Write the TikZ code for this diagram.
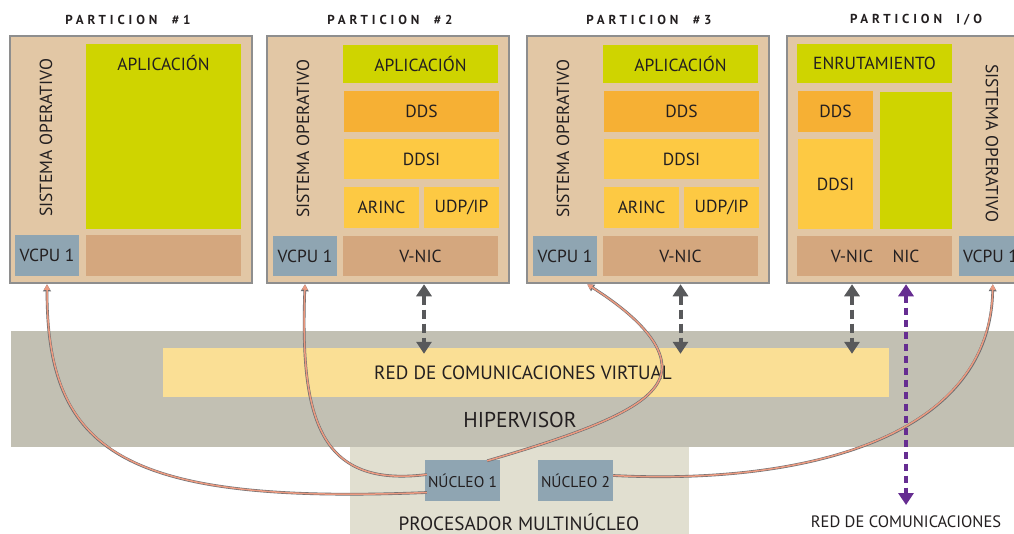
\documentclass[tikz,border=0pt]{standalone}
\usepackage{fontspec}
\setmainfont{PT Sans}
\newfontfamily\titlefont[LetterSpace=30]{PT Sans}
\usetikzlibrary{arrows.meta,calc}
\definecolor{ctan}{HTML}{E2C7A5}
\definecolor{cborder}{HTML}{8E8E8E}
\definecolor{cgreen}{HTML}{CFD400}
\definecolor{corange}{HTML}{F6B034}
\definecolor{cyellow}{HTML}{FDC943}
\definecolor{cbrown}{HTML}{D4A77E}
\definecolor{cblue}{HTML}{8FA5B2}
\definecolor{chyp}{HTML}{C2C0B3}
\definecolor{cvnet}{HTML}{FADF95}
\definecolor{cproc}{HTML}{E1DFD0}
\definecolor{ctext}{HTML}{231F20}
\definecolor{cdash}{HTML}{58595B}
\definecolor{cpurple}{HTML}{662D91}
\definecolor{csalmon}{HTML}{EC9A80}
\definecolor{coutline}{HTML}{6D6E71}
\newcommand\mybox[7]{%
  \pgfmathsetmacro\bxcx{((#2)+(#4))/2}\pgfmathsetmacro\bxcy{((#3)+(#5))/2}%
  \pgfmathsetmacro\bxww{(#4)-(#2)}\pgfmathsetmacro\bxhh{(#5)-(#3)}%
  \node[#6, minimum width=\bxww pt, minimum height=\bxhh pt] (#1) at (\bxcx,\bxcy) {#7};}
\newcommand\nucarrow[1]{%
  \draw[coutline, line width=2.7pt, -{Triangle[length=7pt,width=7.5pt]}] #1;
  \draw[csalmon, line width=1.5pt, -{Triangle[length=5.5pt,width=5.5pt]}] #1;}
\begin{document}
\begin{tikzpicture}[x=1pt,y=-1pt,
  every node/.style={inner sep=0pt, text=ctext, font=\fontsize{17.5}{17.5}\selectfont},
  part/.style={fill=ctan, draw=cborder, line width=2.5pt},
  title/.style={font=\titlefont\bfseries\fontsize{13}{13}\selectfont},
  dasharr/.style={draw=cdash, line width=4pt, dash pattern=on 9pt off 5pt,
    {Triangle[length=12pt,width=15pt,fill=cdash]}-{Triangle[length=12pt,width=15pt,fill=cdash]}},
  purarr/.style={draw=cpurple, line width=4pt, dash pattern=on 7pt off 5pt,
    {Triangle[length=12pt,width=15pt,fill=cpurple]}-{Triangle[length=12pt,width=15pt,fill=cpurple]}}]
\useasboundingbox (0,0) rectangle (1014,533);
\clip (0,0) rectangle (1014,533);
\fill[white] (0,0) rectangle (1014,533);

% titles
\node[title] (t1) at (128,20) {PARTICION\ \ \#1};
\node[title] (t2) at (390,20) {PARTICION\ \ \#2};
\node[title] (t3) at (649,20) {PARTICION\ \ \#3};
\node[title] (t4) at (916,20) {PARTICION\ \ I/O};

% hypervisor & processor
\mybox{hyp}{11}{331}{1020}{447}{fill=chyp}{}
\mybox{vnet}{163}{348}{889}{397}{fill=cvnet}{}
\node[font=\fontsize{19.2}{19.2}\selectfont] (vnetlbl) at (523,373) {RED DE COMUNICACIONES VIRTUAL};
\node[font=\fontsize{21.5}{21.5}\selectfont] (hyplbl) at (520,420) {HIPERVISOR};
\mybox{proc}{350}{447}{689}{545}{fill=cproc}{}
\node[font=\fontsize{19.2}{19.2}\selectfont] (proclbl) at (519,522) {PROCESADOR MULTINÚCLEO};
\mybox{n1}{425}{460}{500}{501}{fill=cblue,font=\fontsize{15.5}{15.5}\selectfont}{NÚCLEO 1}
\mybox{n2}{538}{460}{613}{501}{fill=cblue,font=\fontsize{15.5}{15.5}\selectfont}{NÚCLEO 2}
\node[font=\fontsize{16.5}{16.5}\selectfont] (extnet) at (906,522) {RED DE COMUNICACIONES};

% partition 1
\mybox{p1}{10}{36}{252}{283}{part}{}
\mybox{p1app}{86}{44}{241}{229}{fill=cgreen}{}
\node (p1applbl) at (163.5,63) {APLICACIÓN};
\mybox{p1vcpu}{15}{235}{79}{276}{fill=cblue}{VCPU 1}
\mybox{p1low}{86}{235}{241}{276}{fill=cbrown}{}
\node[rotate=90] (p1so) at (46,138) {SISTEMA OPERATIVO};

% partitions 2 and 3
\foreach \p/\o in {p2/0,p3/260}{
  \mybox{\p}{267+\o}{36}{509+\o}{283}{part}{}
  \mybox{\p app}{343+\o}{45}{498+\o}{83}{fill=cgreen}{APLICACIÓN}
  \mybox{\p dds}{344+\o}{91}{499+\o}{132}{fill=corange}{DDS}
  \mybox{\p ddsi}{344+\o}{139}{499+\o}{179}{fill=cyellow}{DDSI}
  \mybox{\p arinc}{344+\o}{187}{419+\o}{228}{fill=cyellow}{ARINC}
  \mybox{\p udp}{424+\o}{187}{499+\o}{228}{fill=cyellow}{UDP/IP}
  \mybox{\p vcpu}{273+\o}{236}{337+\o}{276}{fill=cblue}{VCPU 1}
  \mybox{\p vnic}{343+\o}{236}{498+\o}{276}{fill=cbrown}{V-NIC}
  \node[rotate=90] (\p so) at (303+\o,139) {SISTEMA OPERATIVO};
}

% partition I/O
\mybox{io}{787}{36}{1030}{283}{part}{}
\mybox{ioenr}{797}{44}{952}{83}{fill=cgreen}{ENRUTAMIENTO}
\mybox{iodds}{798}{91}{873}{132}{fill=corange}{DDS}
\mybox{ioddsi}{798}{139}{873}{229}{fill=cyellow}{DDSI}
\mybox{iogreen}{880}{92}{952}{229}{fill=cgreen}{}
\mybox{ionic}{797}{236}{952}{276}{fill=cbrown}{}
\node (iovniclbl) at (852,256) {V-NIC};
\node (ioniclbl) at (906,256) {NIC};
\mybox{iovcpu}{959}{236}{1022}{276}{fill=cblue}{VCPU 1}
\node[rotate=-90] (ioso) at (992,143) {SISTEMA OPERATIVO};

% dashed network arrows
\draw[dasharr] ([xshift=3.5pt]p2vnic.south |- p2.south) -- ([xshift=3.5pt,yshift=-6pt]p2vnic.south |- vnet.north);
\draw[dasharr] (p3vnic.south |- p3.south) -- ([yshift=-6pt]p3vnic.south |- vnet.north);
\draw[dasharr] (iovniclbl.south |- io.south) -- ([yshift=-6pt]iovniclbl.south |- vnet.north);
\coordinate (extend) at (906,505);
\draw[purarr] (ioniclbl.south |- io.south) -- (ioniclbl.south |- extend);

% core to vcpu arrows
\nucarrow{($(n1.west)+(2,12)$) .. controls (120,505) and (47,450) .. (p1vcpu.south |- p1.south)}
\nucarrow{($(n1.west)+(2,-6)$) .. controls (320,488) and (300,420) .. (p2vcpu.south |- p2.south)}
\nucarrow{($(n1.north east)+(-13,1)$) .. controls (610,425) and (664,400) .. (662,365) .. controls (660,335) and (620,305) .. ($(p3vcpu.south east |- p3.south)+(-10,0)$)}
\nucarrow{($(n2.east)+(0,-5)$) .. controls (800,485) and (990,440) .. ($(iovcpu.south west |- io.south)+(34,0)$)}
\end{tikzpicture}
\end{document}
